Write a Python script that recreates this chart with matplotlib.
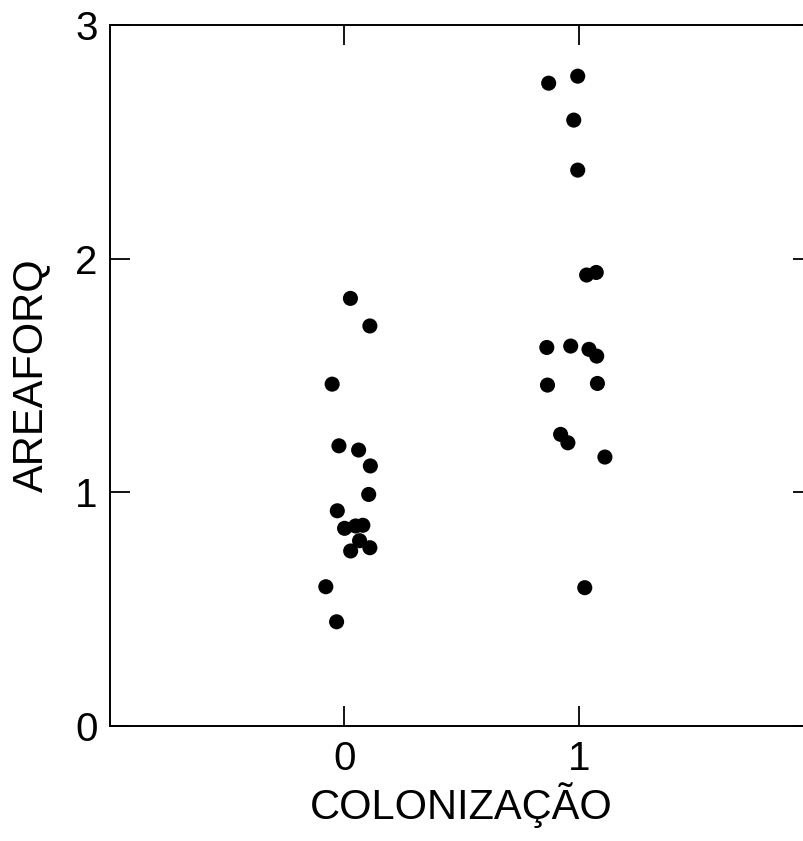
import matplotlib
matplotlib.use("Agg")
import matplotlib.pyplot as plt

# jittered x positions and AREAFORQ values
x_col0 = [0.026, 0.109, -0.052, -0.023, 0.061, 0.111, 0.104, -0.030,
          0.001, 0.048, 0.079, 0.065, 0.027, 0.109, -0.079, -0.033]
y_col0 = [1.830, 1.712, 1.463, 1.199, 1.181, 1.113, 0.991, 0.921,
          0.846, 0.856, 0.859, 0.793, 0.749, 0.763, 0.596, 0.446]

x_col1 = [0.872, 0.996, 0.979, 0.996, 1.034, 1.075, 0.864, 0.966,
          1.044, 1.077, 0.867, 1.080, 0.923, 0.954, 1.112, 1.026]
y_col1 = [2.751, 2.781, 2.593, 2.379, 1.930, 1.941, 1.620, 1.626,
          1.612, 1.583, 1.459, 1.466, 1.248, 1.212, 1.151, 0.592]

xticks = [0, 1]
yticks = [0, 1, 2, 3]

plt.rcParams['font.family'] = ['Liberation Sans', 'DejaVu Sans']

fig = plt.figure(figsize=(8.04, 8.41), dpi=100)
# right edge of the frame runs past the picture, as in the reference
ax = fig.add_axes([110 / 804, 115 / 841, 703 / 804, 701 / 841])

ax.scatter(x_col0 + x_col1, y_col0 + y_col1, s=118, c='black',
           edgecolors='none', zorder=3, clip_on=False)

ax.set_xlim(-1, 2)
ax.set_ylim(0, 3)
ax.set_xticks(xticks)
ax.set_yticks(yticks)
ax.tick_params(direction='in', length=14.5, width=1.3, labelsize=29,
               top=True, right=True)
ax.tick_params(axis='x', pad=10)
ax.tick_params(axis='y', pad=9)
for sp in ax.spines.values():
    sp.set_linewidth(1.4)

ax.set_xlabel('COLONIZAÇÃO', fontsize=30, labelpad=3)
ax.set_ylabel('AREAFORQ', fontsize=30, labelpad=17)

fig.savefig('out.png', dpi=100)
